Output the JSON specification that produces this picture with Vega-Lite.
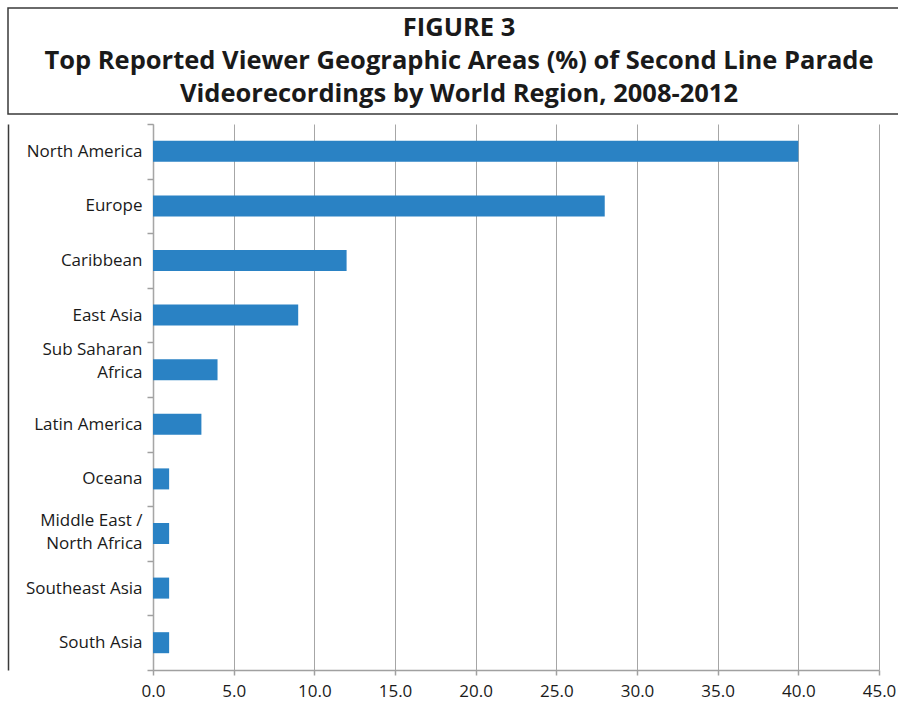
{
  "$schema": "https://vega.github.io/schema/vega-lite/v6.json",
  "padding": {"left": 7, "top": 7, "right": 0, "bottom": 30},
  "background": "white",
  "spacing": 0,
  "config": {"view": {"stroke": null}, "font": "Open Sans"},
  "vconcat": [
    {
      "width": 902,
      "height": 106,
      "view": {"stroke": "#3a3a3a", "strokeWidth": 1.5},
      "data": {"values": [
        {"row": 1, "line": "FIGURE 3"},
        {"row": 2, "line": "Top Reported Viewer Geographic Areas (%) of Second Line Parade"},
        {"row": 3, "line": "Videorecordings by World Region, 2008-2012"}
      ]},
      "mark": {"type": "text", "font": "Open Sans", "fontWeight": "bold", "fontSize": 25.5, "color": "#1a1a1a", "baseline": "middle", "align": "center"},
      "encoding": {
        "y": {"field": "row", "type": "ordinal", "axis": null, "scale": {"type": "point", "padding": 0.63}},
        "text": {"field": "line"}
      }
    },
    {
      "data": {"values": [
        {"region": "North America", "pct": 40},
        {"region": "Europe", "pct": 28},
        {"region": "Caribbean", "pct": 12},
        {"region": "East Asia", "pct": 9},
        {"region": "Sub Saharan Africa", "pct": 4},
        {"region": "Latin America", "pct": 3},
        {"region": "Oceana", "pct": 1},
        {"region": "Middle East / North Africa", "pct": 1},
        {"region": "Southeast Asia", "pct": 1},
        {"region": "South Asia", "pct": 1}
      ]},
      "spacing": 0,
      "bounds": "flush",
      "hconcat": [
        {
          "width": 145,
          "height": 546,
          "layer": [
            {
              "mark": {"type": "bar", "opacity": 0},
              "encoding": {
                "x": {"field": "pct", "type": "quantitative", "axis": null},
                "y": {
                  "field": "region", "type": "nominal", "sort": null,
                  "scale": {"paddingInner": 0, "paddingOuter": 0},
                  "axis": {
                    "orient": "left", "offset": -145,
                    "title": null, "domainColor": "#a0a0a0", "domainWidth": 1.5,
                    "tickColor": "#a0a0a0", "tickSize": 6, "tickBand": "extent", "tickWidth": 1.5,
                    "labelFontSize": 17, "labelColor": "#1a1a1a", "labelPadding": 5,
                    "labelLimit": 200, "labelLineHeight": 23, "grid": false,
                    "labelOffset": {
                      "condition": [
                        {"test": "datum.value == 'Sub Saharan Africa'", "value": -20},
                        {"test": "datum.value == 'Middle East / North Africa'", "value": -13}
                      ],
                      "value": 0
                    },
                    "labelExpr": "datum.label == 'Sub Saharan Africa' ? ['Sub Saharan', 'Africa'] : datum.label == 'Middle East / North Africa' ? ['Middle East /', 'North Africa'] : datum.label"
                  }
                }
              }
            },
            {
              "mark": {"type": "bar", "opacity": 0},
              "encoding": {
                "x": {"field": "pct", "type": "quantitative", "axis": null},
                "y": {
                  "field": "region", "type": "nominal", "sort": null,
                  "axis": {"orient": "left", "offset": 0, "labels": false, "ticks": false, "title": null, "grid": false, "domainColor": "#3a3a3a", "domainWidth": 1.5}
                }
              }
            }
          ],
          "resolve": {"axis": {"y": "independent"}}
        },
        {
          "width": 726,
          "height": 546,
          "mark": {"type": "bar", "color": "#2a82c4", "height": {"band": 0.385}},
          "encoding": {
            "y": {"field": "region", "type": "nominal", "sort": null, "axis": null, "scale": {"paddingInner": 0, "paddingOuter": 0}},
            "x": {
              "field": "pct", "type": "quantitative",
              "scale": {"domain": [0, 45], "nice": false},
              "axis": {
                "title": null, "values": [0, 5, 10, 15, 20, 25, 30, 35, 40, 45], "format": ".1f",
                "grid": true, "gridColor": "#a6a6a6", "gridWidth": 1,
                "domainColor": "#a0a0a0", "domainWidth": 1.5, "tickColor": "#a0a0a0", "tickWidth": 1.5, "tickSize": 5,
                "labelFontSize": 17, "labelColor": "#1a1a1a", "labelPadding": 8, "labelFlush": false
              }
            }
          }
        }
      ]
    }
  ]
}
